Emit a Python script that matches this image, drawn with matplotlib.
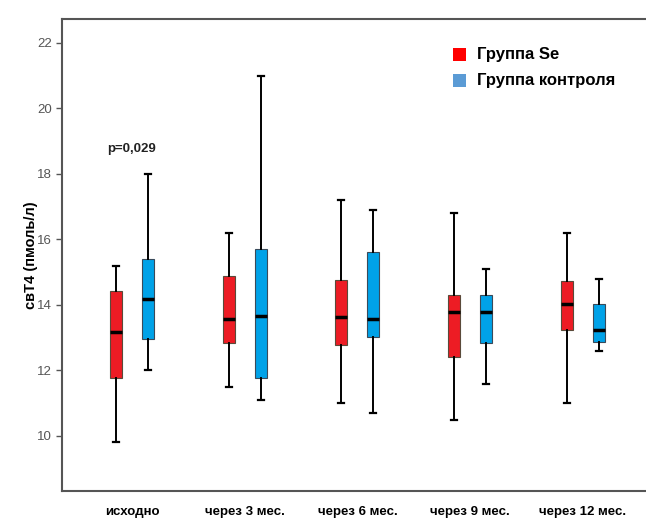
import matplotlib
matplotlib.use("Agg")
import matplotlib.pyplot as plt
from matplotlib.patches import Rectangle

plt.rcParams['font.family'] = ['Liberation Sans', 'DejaVu Sans']

# periods on the x axis
periods = ['исходно', 'через 3 мес.', 'через 6 мес.', 'через 9 мес.', 'через 12 мес.']

# five-number summaries (whisker low, q1, median, q3, whisker high), pmol/l
se_low = [9.8, 11.5, 11.0, 10.5, 11.0]
se_q1 = [11.77, 12.83, 12.78, 12.42, 13.24]
se_med = [13.18, 13.57, 13.63, 13.78, 14.02]
se_q3 = [14.43, 14.88, 14.77, 14.31, 14.72]
se_high = [15.2, 16.2, 17.2, 16.8, 16.2]

ctl_low = [12.0, 11.1, 10.7, 11.6, 12.6]
ctl_q1 = [12.96, 11.77, 13.02, 12.83, 12.87]
ctl_med = [14.17, 13.67, 13.57, 13.78, 13.24]
ctl_q3 = [15.41, 15.72, 15.62, 14.31, 14.02]
ctl_high = [18.0, 21.0, 16.9, 15.1, 14.8]

p_text = 'p=0,029'
legend_labels = ['Группа Se', 'Группа контроля']


def make_stats(low, q1, med, q3, high):
    return [dict(whislo=a, q1=b, med=c, q3=d, whishi=e, fliers=[])
            for a, b, c, d, e in zip(low, q1, med, q3, high)]


fig = plt.figure(figsize=(6.46, 5.19), dpi=100)
ax = fig.add_axes([0.096, 0.054, 0.904, 0.9094])

xs = list(range(len(periods)))
off = 0.142
w = 0.106
groups = [
    (make_stats(se_low, se_q1, se_med, se_q3, se_high), -off, '#ED1C24', '#5a4a3a'),
    (make_stats(ctl_low, ctl_q1, ctl_med, ctl_q3, ctl_high), off, '#00A2E8', '#3a4a5a'),
]
for stats, dx, face, edge in groups:
    ax.bxp(stats, positions=[x + dx for x in xs], widths=w, capwidths=0.055,
           patch_artist=True, showfliers=False,
           boxprops=dict(facecolor=face, edgecolor=edge, linewidth=0.8),
           whiskerprops=dict(color='black', linewidth=1.4),
           capprops=dict(color='black', linewidth=1.6),
           medianprops=dict(color='black', linewidth=2.5))

ax.set_xlim(-0.62, 4.56)
ax.set_ylim(8.32, 22.73)
ax.set_yticks(range(10, 23, 2))
ax.set_yticklabels([str(v) for v in range(10, 23, 2)], color='#555555', fontsize=9.5)
ax.tick_params(axis='y', direction='out', length=4, width=1, color='#555555')

ax.set_xticks(xs)
ax.set_xticklabels(periods, fontsize=9.5, fontweight='bold',
                   family=['Liberation Sans Narrow', 'Liberation Sans', 'DejaVu Sans'])
ax.tick_params(axis='x', length=0, pad=11)

for side in ['left', 'top', 'bottom']:
    ax.spines[side].set_color('#555555')
    ax.spines[side].set_linewidth(1.5)
ax.spines['right'].set_visible(False)

ax.set_ylabel('свТ4 (пмоль/л)', fontsize=10.5, fontweight='bold', labelpad=-1)

ax.text(0, 18.75, p_text, ha='center', va='center', fontsize=9.5,
        fontweight='bold', color='#222222')

# legend drawn by hand, like the SPSS one
leg_colors = ['#FF0000', '#5B9BD5']
for i, (lab, col) in enumerate(zip(legend_labels, leg_colors)):
    yy = 0.925 - i * 0.055
    ax.add_patch(Rectangle((0.67, yy - 0.014), 0.022, 0.028, transform=ax.transAxes,
                           facecolor=col, edgecolor='none'))
    ax.text(0.71, yy, lab, transform=ax.transAxes, fontsize=12, fontweight='bold',
            va='center', ha='left')

fig.savefig('out.png', dpi=100)
